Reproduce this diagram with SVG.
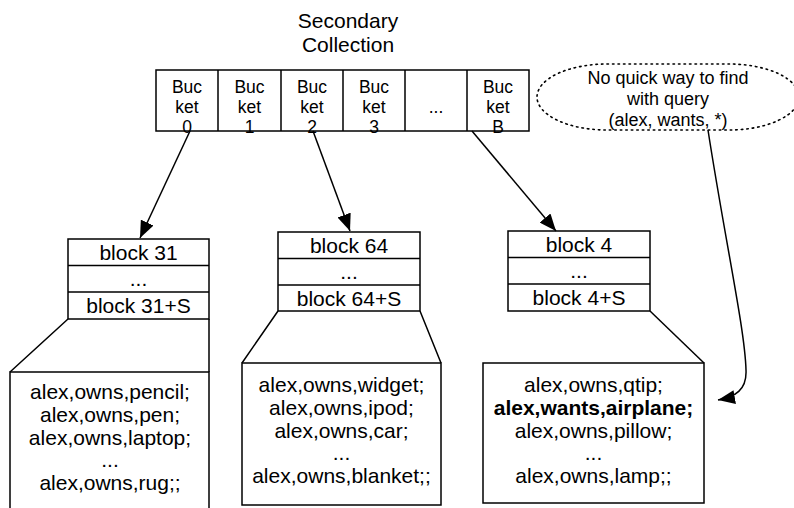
<svg xmlns="http://www.w3.org/2000/svg" width="794" height="508" viewBox="0 0 794 508">
<defs>
<style>
text{font-family:"Liberation Sans",Arial,Helvetica,sans-serif;font-size:21px;fill:#000;text-anchor:middle;dominant-baseline:central}
.b{font-weight:bold}
.s{font-size:17.5px}
.n{font-size:18px}
.box{fill:#fff;stroke:#000;stroke-width:1.5}
.ln{fill:none;stroke:#000;stroke-width:1.5}
.dot{fill:none;stroke:#000;stroke-width:1.6;stroke-dasharray:1.5 4;stroke-linecap:round}
</style>
<marker id="ah" markerUnits="userSpaceOnUse" markerWidth="18" markerHeight="14" refX="17" refY="7" orient="auto">
<path d="M0,0 L17,7 L0,14 Z" fill="#000"/>
</marker>
</defs>
<rect width="794" height="508" fill="#fff"/>

<g id="title">
<text x="348" y="20">Secondary</text>
<text x="348" y="44">Collection</text>
</g>

<g id="buckets">
<rect class="box" x="156" y="70" width="373" height="61"/>
<path class="ln" d="M218,70V131M281,70V131M343,70V131M405,70V131M467,70V131"/>
<text class="s" x="187" y="86.5">Buc</text><text class="s" x="187" y="106.5">ket</text><text class="s" x="187" y="126.5">0</text>
<text class="s" x="249.5" y="86.5">Buc</text><text class="s" x="249.5" y="106.5">ket</text><text class="s" x="249.5" y="126.5">1</text>
<text class="s" x="312" y="86.5">Buc</text><text class="s" x="312" y="106.5">ket</text><text class="s" x="312" y="126.5">2</text>
<text class="s" x="374" y="86.5">Buc</text><text class="s" x="374" y="106.5">ket</text><text class="s" x="374" y="126.5">3</text>
<text class="s" x="436" y="106.5">...</text>
<text class="s" x="498" y="86.5">Buc</text><text class="s" x="498" y="106.5">ket</text><text class="s" x="498" y="126.5">B</text>
</g>

<g id="note">
<rect class="dot" x="537" y="64" width="262" height="66" rx="70" ry="33"/>
<text class="n" x="668" y="77.5">No quick way to find</text>
<text class="n" x="668" y="98.5">with query</text>
<text class="n" x="668" y="119.5">(alex, wants, *)</text>
</g>

<g id="block31">
<path class="ln" d="M68,319 L10,372 M209,319 V372"/>
<rect class="box" x="68" y="239" width="141" height="80"/>
<path class="ln" d="M68,265.5H209M68,292H209"/>
<text x="138.5" y="252">block 31</text>
<text x="138.5" y="278">...</text>
<text x="138.5" y="305">block 31+S</text>
</g>

<g id="data31">
<path class="box" d="M10,510 V372 H209 V510"/>
<text x="110" y="391">alex,owns,pencil;</text>
<text x="110" y="414">alex,owns,pen;</text>
<text x="110" y="437">alex,owns,laptop;</text>
<text x="110" y="459">...</text>
<text x="110" y="482">alex,owns,rug;;</text>
</g>

<g id="block64">
<path class="ln" d="M278,311 L242,363 M420,311 L441,363"/>
<rect class="box" x="278" y="232" width="142" height="79"/>
<path class="ln" d="M278,258.5H420M278,285H420"/>
<text x="349" y="245">block 64</text>
<text x="349" y="271">...</text>
<text x="349" y="298">block 64+S</text>
</g>

<g id="data64">
<rect class="box" x="242" y="363" width="199" height="142"/>
<text x="341.5" y="384">alex,owns,widget;</text>
<text x="341.5" y="407">alex,owns,ipod;</text>
<text x="341.5" y="430">alex,owns,car;</text>
<text x="341.5" y="452">...</text>
<text x="341.5" y="475">alex,owns,blanket;;</text>
</g>

<g id="block4">
<path class="ln" d="M650,311 L704,363"/>
<rect class="box" x="508" y="231" width="142" height="80"/>
<path class="ln" d="M508,257.5H650M508,284H650"/>
<text x="579" y="244">block 4</text>
<text x="579" y="270">...</text>
<text x="579" y="297">block 4+S</text>
</g>

<g id="data4">
<rect class="box" x="483" y="363" width="221" height="140"/>
<text x="593.5" y="384">alex,owns,qtip;</text>
<text class="b" x="593.5" y="407">alex,wants,airplane;</text>
<text x="593.5" y="430">alex,owns,pillow;</text>
<text x="593.5" y="452">...</text>
<text x="593.5" y="475">alex,owns,lamp;;</text>
</g>

<g id="connectors">
<path class="ln" d="M190,131 L140,238" marker-end="url(#ah)"/>
<path class="ln" d="M313,131 L350,231" marker-end="url(#ah)"/>
<path class="ln" d="M472,131 L556,231" marker-end="url(#ah)"/>
<path class="ln" d="M708,130 C725,240 745,330 746,370 C747,390 735,397 718,400" marker-end="url(#ah)"/>
</g>
</svg>
